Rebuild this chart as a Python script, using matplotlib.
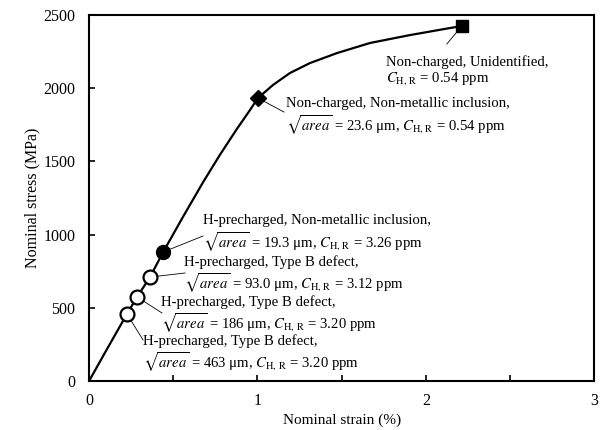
import numpy as np
import matplotlib
matplotlib.use("Agg")
import matplotlib.pyplot as plt
from matplotlib.ticker import MultipleLocator

plt.rcParams['font.family'] = ['Liberation Serif', 'DejaVu Serif']
plt.rcParams['mathtext.fontset'] = 'stix'

## stress-strain curve
strain = [0.0, 0.1, 0.225, 0.285, 0.362, 0.44, 0.558, 0.677, 0.777, 0.878,
          0.955, 1.003, 1.092, 1.193, 1.312, 1.472, 1.668, 1.905, 2.142, 2.214]
stress = [0, 205, 458, 574, 710, 881, 1122, 1358, 1545, 1722,
          1850, 1933, 2022, 2104, 2172, 2240, 2309, 2363, 2411, 2425]

## fracture points
open_strain = [0.362, 0.285, 0.225]
open_stress = [710, 574, 458]
filled_strain = [0.44]
filled_stress = [881]
diamond_strain = [1.003]
diamond_stress = [1933]
square_strain = [2.214]
square_stress = [2425]

labels = [
    "Non-charged, Unidentified,\n$C_{\\mathrm{H,\\,R}}$ = 0.54 ppm",
    "Non-charged, Non-metallic inclusion,\n$\\sqrt{area}$ = 23.6 \u03bcm, $C_{\\mathrm{H,\\,R}}$ = 0.54 ppm",
    "H-precharged, Non-metallic inclusion,\n$\\sqrt{area}$ = 19.3 \u03bcm, $C_{\\mathrm{H,\\,R}}$ = 3.26 ppm",
    "H-precharged, Type B defect,\n$\\sqrt{area}$ = 93.0 \u03bcm, $C_{\\mathrm{H,\\,R}}$ = 3.12 ppm",
    "H-precharged, Type B defect,\n$\\sqrt{area}$ = 186 \u03bcm, $C_{\\mathrm{H,\\,R}}$ = 3.20 ppm",
    "H-precharged, Type B defect,\n$\\sqrt{area}$ = 463 \u03bcm, $C_{\\mathrm{H,\\,R}}$ = 3.20 ppm",
]
label_pts = list(zip(square_strain + diamond_strain + filled_strain + open_strain,
                     square_stress + diamond_stress + filled_stress + open_stress))

## layout helpers: pixel -> data
def px2x(px):
    return (px - 89) / 168.5

def py2y(py):
    return (381 - py) / 0.1464

# text anchor (left, center of block) and leader end, in pixels
text_pos = [(386, 71), (286, 117), (203, 234), (184, 275), (161, 315), (143, 354)]
leader_end = [(447, 44), (284, 112), (203, 236), (185, 273), (162, 313), (143, 340)]

fig = plt.figure(figsize=(6.02, 4.30), dpi=100)
ax = fig.add_axes([0.148, 0.114, 0.839, 0.851])

ax.plot(strain, stress, color="black", linewidth=1.6, zorder=2)

for (x, y), (tx, ty), (ex, ey), lab in zip(label_pts, text_pos, leader_end, labels):
    ax.plot([x, px2x(ex)], [y, py2y(ey)], color="black", linewidth=0.6, zorder=1)
    ax.text(px2x(tx), py2y(ty), lab, ha="left", va="center", fontsize=10.6,
            linespacing=1.15)

ax.plot(open_strain, open_stress, "o", markersize=10, markerfacecolor="white",
        markeredgecolor="black", markeredgewidth=1.6, zorder=4)
ax.plot(filled_strain, filled_stress, "o", markersize=10, color="black", zorder=4)
ax.plot(diamond_strain, diamond_stress, "D", markersize=8.5, color="black", zorder=4)
ax.plot(square_strain, square_stress, "s", markersize=9, color="black", zorder=4)

ax.set_xlim(0, 3)
ax.set_ylim(0, 2500)
ax.xaxis.set_major_locator(MultipleLocator(1))
ax.xaxis.set_minor_locator(MultipleLocator(0.5))
ax.yaxis.set_major_locator(MultipleLocator(500))
ax.tick_params(axis="both", which="both", direction="in", labelsize=11.5,
               top=False, right=False, width=1.2)
ax.tick_params(axis="y", which="major", length=4, pad=10)
ax.tick_params(axis="x", which="major", length=4, pad=9)
ax.tick_params(axis="x", which="minor", length=4)
for sp in ax.spines.values():
    sp.set_linewidth(1.5)

ax.set_xlabel("Nominal strain (%)", fontsize=11, labelpad=3)
ax.set_ylabel("Nominal stress (MPa)", fontsize=11.5, labelpad=2)

plt.savefig("out.png", dpi=100)
